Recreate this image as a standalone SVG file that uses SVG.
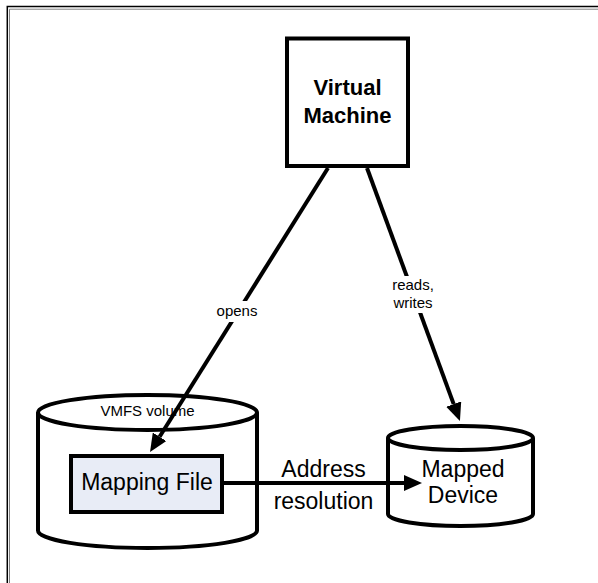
<svg xmlns="http://www.w3.org/2000/svg" width="598" height="583" viewBox="0 0 598 583">
<style>
  .shape { fill: #ffffff; stroke: #000000; stroke-width: 4; }
  .edge { fill: none; stroke: #000000; stroke-width: 4; }
  .lbl { font-family: "Liberation Sans", Arial, sans-serif; fill: #000000; text-anchor: middle; }
  .small { font-size: 15px; }
  .big { font-size: 23px; }
  .bold { font-size: 22px; font-weight: bold; }
  .mask { fill: #ffffff; stroke: none; }
</style>
<defs>
  <marker id="arrow" markerUnits="userSpaceOnUse" viewBox="0 0 18 16" markerWidth="18" markerHeight="16" refX="0" refY="8" orient="auto">
    <path d="M0,0 L18,8 L0,16 z" fill="#000000"/>
  </marker>
</defs>
<rect x="0" y="0" width="598" height="583" fill="#ffffff"/>
<g id="frame">
  <path d="M7.3,600 V6.5 H600" fill="none" stroke="#000000" stroke-width="1.5"/>
  <path d="M9.5,600 V9.2 H600" fill="none" stroke="#808080" stroke-width="1"/>
</g>
<g id="vmfs-volume">
  <path class="shape" d="M38,412.5 V530.5 A109.5,17.5 0 0 0 257,530.5 V412.5"/>
  <ellipse class="shape" cx="147.5" cy="412.5" rx="109.5" ry="17.5"/>
  <text class="lbl small" x="147.5" y="416">VMFS volume</text>
</g>
<g id="mapping-file">
  <rect x="71" y="456" width="151" height="56" fill="#E8ECF6" stroke="#000000" stroke-width="4"/>
  <text class="lbl big" x="147" y="490">Mapping File</text>
</g>
<g id="mapped-device">
  <path class="shape" d="M388,438 V514 A72.5,12 0 0 0 533,514 V438"/>
  <ellipse class="shape" cx="460.5" cy="438" rx="72.5" ry="12"/>
  <text class="lbl big" x="463" y="477">Mapped</text>
  <text class="lbl big" x="463" y="503">Device</text>
</g>
<g id="virtual-machine">
  <rect class="shape" x="287" y="38.5" width="121" height="127.5"/>
  <text class="lbl bold" x="347.5" y="95">Virtual</text>
  <text class="lbl bold" x="347.5" y="123">Machine</text>
</g>
<g id="connectors">
  <line class="edge" x1="328" y1="168" x2="159.6" y2="436.8" marker-end="url(#arrow)"/>
  <rect class="mask" x="214" y="301" width="46" height="21"/>
  <text class="lbl small" x="237" y="316">opens</text>
  <line class="edge" x1="367" y1="168" x2="453.7" y2="404.1" marker-end="url(#arrow)"/>
  <rect class="mask" x="390" y="276" width="46" height="37"/>
  <text class="lbl small" x="413" y="290">reads,</text>
  <text class="lbl small" x="413" y="308">writes</text>
  <line class="edge" x1="224" y1="483" x2="404" y2="483" marker-end="url(#arrow)"/>
  <text class="lbl big" x="323.5" y="477">Address</text>
  <text class="lbl big" x="323.5" y="509">resolution</text>
</g>
</svg>
